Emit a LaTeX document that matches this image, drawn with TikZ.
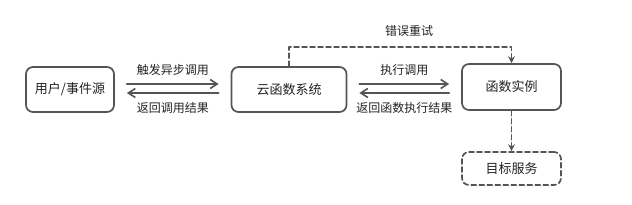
\documentclass[tikz,border=0pt]{standalone}
\usepackage{fontspec}
\setmainfont{Noto Sans CJK SC}
\usepackage{tikz}
\usetikzlibrary{arrows.meta}
\definecolor{linegray}{HTML}{555555}
\definecolor{textgray}{HTML}{222222}
\tikzset{
  every picture/.style={line join=round, line cap=round},
  box/.style={draw=linegray, line width=1.7pt, rounded corners=7pt, align=center,
    text=textgray, font=\fontsize{13}{15}\selectfont, inner sep=0pt},
  flow/.style={draw=linegray, line width=1.7pt, -{Straight Barb[length=7pt,width=9pt,line width=1.6pt]},
    shorten <=12pt, shorten >=12pt},
  dashflow/.style={draw=linegray, line width=1.5pt, dash pattern=on 5pt off 3pt,
    -{Stealth[length=7pt,width=7pt]}},
  lbl/.style={text=textgray, font=\fontsize{12}{14}\selectfont, inner sep=3pt},
}

\begin{document}
\begin{tikzpicture}[x=1pt,y=-1pt]
\useasboundingbox (0,0) rectangle (632,205);
\node[box, minimum width=88pt, minimum height=45pt](src) at (70,89.5){用户/事件源};
\node[box, minimum width=115pt, minimum height=45pt](sys) at (289,89.5){云函数系统};
\node[box, minimum width=99pt, minimum height=46pt](inst) at (511.5,87){函数实例};
\node[box, dashed, dash pattern=on 5pt off 3pt, minimum width=99pt, minimum height=33pt](svc) at (511.5,168.5){目标服务};
% calls and results
\draw[flow]([yshift=5.5pt]src.east)--([yshift=5.5pt]sys.west) node[lbl,midway,above=5pt]{触发异步调用};
\draw[flow]([yshift=-3.5pt]sys.west)--([yshift=-3.5pt]src.east) node[lbl,midway,below=6pt]{返回调用结果};
\draw[flow]([yshift=5.5pt]sys.east)--([yshift=3pt]inst.west) node[lbl,midway,above=5pt]{执行调用};
\draw[flow]([yshift=-6pt]inst.west)--([yshift=-3.5pt]sys.east) node[lbl,midway,below=6pt]{返回函数执行结果};
% retry and downstream
\draw[dashflow](sys.north)--++(0,-19) -| (inst.north) node[lbl,pos=0.27,above=7pt]{错误重试};
\draw[dashflow](inst.south)--(svc.north);
\end{tikzpicture}
\end{document}
